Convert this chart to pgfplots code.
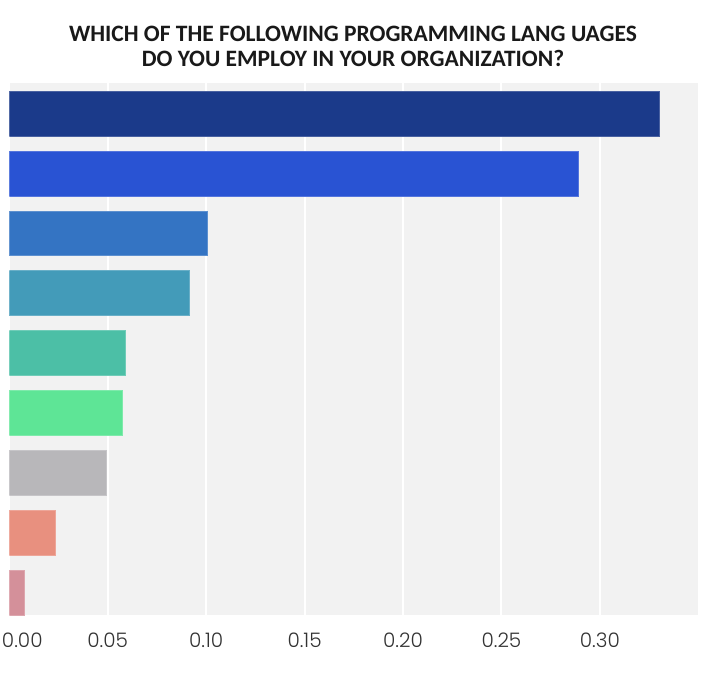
\documentclass[border=0pt]{standalone}
\usepackage{pgfplots}
\pgfplotsset{compat=1.18}
\usepackage{fontspec}
\setmainfont{Carlito}
\newfontfamily\titlefont{Carlito}
\newfontfamily\tickfont{Poppins Light}
\definecolor{bgc}{HTML}{F2F2F2}
\definecolor{cA}{HTML}{1B3A8A}
\definecolor{cB}{HTML}{2953D3}
\definecolor{cC}{HTML}{3474C3}
\definecolor{cD}{HTML}{439BB9}
\definecolor{cE}{HTML}{4CBFA6}
\definecolor{cF}{HTML}{5EE596}
\definecolor{cG}{HTML}{B8B7BA}
\definecolor{cH}{HTML}{E8907F}
\definecolor{cI}{HTML}{D4909A}
\definecolor{tickc}{HTML}{333333}
\begin{document}
\begin{tikzpicture}
\useasboundingbox (-9.3pt,-58pt) rectangle (696.7pt,615pt);
\begin{axis}[
  at={(0pt,0pt)}, anchor=south west,
  scale only axis,
  width=689pt, height=532pt,
  xmin=0, xmax=0.35,
  ymin=-0.375, ymax=8.508,
  xbar, bar width=0.75, bar shift=0pt,
  axis background/.style={fill=bgc},
  axis line style={draw=none},
  xmajorgrids, grid style={white, line width=2pt},
  major tick length=0pt,
  ytick=\empty,
  xtick={0,0.05,0.1,0.15,0.2,0.25,0.3},
  xticklabels={\hspace{26pt}0.00,0.05,0.10,0.15,0.20,0.25,0.30},
  /pgf/number format/assume math mode=true,
  xticklabel style={font=\tickfont\fontsize{20}{24}\selectfont, text=tickc, inner sep=0pt, yshift=-18pt},
]
\addplot[fill=cA, draw=cA!80!white] coordinates {(0.330,8)};
\addplot[fill=cB, draw=cB!80!white] coordinates {(0.289,7)};
\addplot[fill=cC, draw=cC!80!white] coordinates {(0.1006,6)};
\addplot[fill=cD, draw=cD!80!white] coordinates {(0.0914,5)};
\addplot[fill=cE, draw=cE!80!white] coordinates {(0.0589,4)};
\addplot[fill=cF, draw=cF!80!white] coordinates {(0.0573,3)};
\addplot[fill=cG, draw=cG!80!white] coordinates {(0.0492,2)};
\addplot[fill=cH, draw=cH!80!white] coordinates {(0.0232,1)};
\addplot[fill=cI, draw=cI!80!white] coordinates {(0.0075,0)};
\end{axis}
\node[anchor=base, font=\titlefont\bfseries\fontsize{23.5}{28}\selectfont, text=black!90] at (343.7pt,573pt) {WHICH OF THE FOLLOWING PROGRAMMING LANG UAGES};
\node[anchor=base, font=\titlefont\bfseries\fontsize{23.5}{28}\selectfont, text=black!90] at (343.7pt,548pt) {DO YOU EMPLOY IN YOUR ORGANIZATION?};
\end{tikzpicture}
\end{document}
